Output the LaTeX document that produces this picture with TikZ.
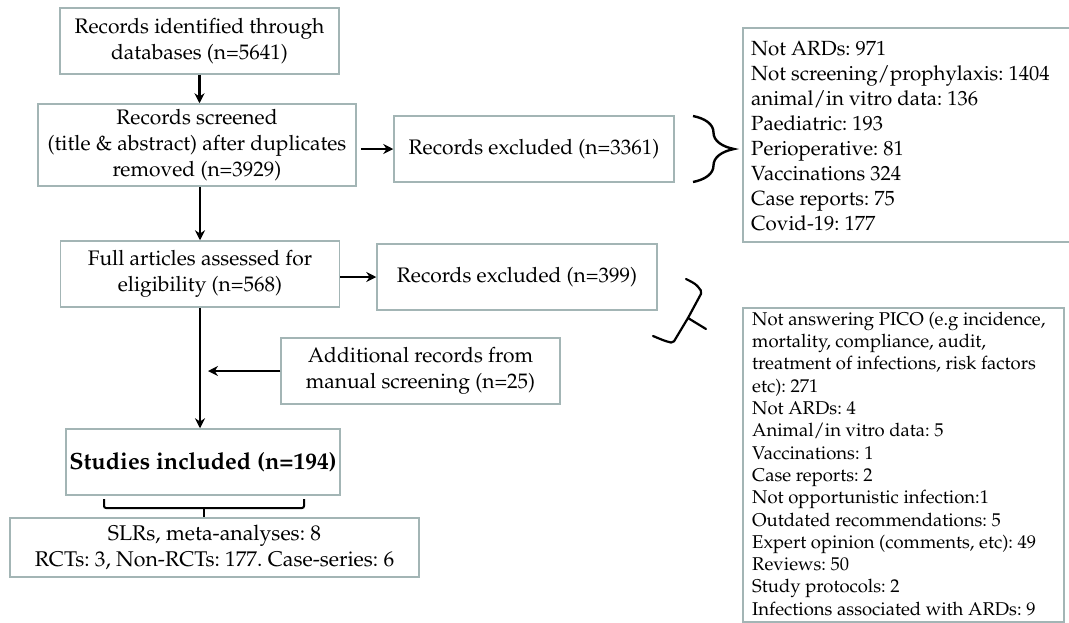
\documentclass[tikz,border=0pt]{standalone}
\usepackage[T1]{fontenc}
\usepackage{mathpazo}
\usetikzlibrary{arrows.meta,decorations.pathreplacing}
\definecolor{boxc}{HTML}{A3B5B5}
\frenchspacing
\begin{document}
\begin{tikzpicture}[x=1pt,y=-1pt,
  box/.style={draw=boxc, line width=1.5pt, inner sep=0pt, align=center, font=\fontsize{21}{25.7}\selectfont},
  frame/.style={draw=boxc, line width=1.5pt, inner sep=0pt, anchor=north west},
  listtext/.style={inner sep=0pt, anchor=west, align=left},
  arr/.style={line width=2.6pt, -{Stealth[length=10pt,width=10pt]}},
  brc/.style={line width=2.4pt, decorate, decoration={brace, amplitude=#1}},
  hand/.style={line width=2.2pt, line cap=round, line join=round, rounded corners=2pt}]
\useasboundingbox (0,0) rectangle (1069,622);
\fill[white] (0,0) rectangle (1069,622);

\node[box, minimum width=279pt, minimum height=66pt] (id) at (199.5,41) {Records identified through\\databases (n=5641)};
\node[box, minimum width=318pt, minimum height=82pt] (scr) at (197,145) {Records screened\\(title \& abstract) after duplicates\\removed (n=3929)};
\node[box, minimum width=280pt, minimum height=66pt] (exa) at (534,149) {Records excluded (n=3361)};
\node[frame, minimum width=327pt, minimum height=214pt] (lista) at (742,27) {};
\node[listtext, font=\fontsize{20.5}{25}\selectfont] (lista-t) at ([xshift=9pt,yshift=-1pt]lista.west) {Not ARDs: 971\\Not screening/prophylaxis: 1404\\animal/in vitro data: 136\\Paediatric: 193\\Perioperative: 81\\Vaccinations 324\\Case reports: 75\\Covid-19: 177};
\node[box, minimum width=279pt, minimum height=66pt] (full) at (200,274) {Full articles assessed for\\eligibility (n=568)};
\node[box, minimum width=280pt, minimum height=66pt] (exb) at (517,277) {Records excluded (n=399)};
\node[box, minimum width=279pt, minimum height=66pt] (add) at (420.5,371) {Additional records from\\manual screening (n=25)};
\node[box, minimum width=274pt, minimum height=66pt, font=\fontsize{23.5}{26}\selectfont\bfseries] (inc) at (203,462) {Studies included (n=194)};
\node[box, minimum width=409pt, minimum height=59pt, font=\fontsize{21.3}{25.7}\selectfont] (types) at (214.5,547.5) {SLRs, meta-analyses: 8\\RCTs: 3, Non-RCTs: 177. Case-series: 6};
\node[frame, minimum width=321pt, minimum height=314pt] (listb) at (742,307) {};
\node[listtext, font=\fontsize{18.5}{22.3}\selectfont] (listb-t) at ([xshift=10pt,yshift=1pt]listb.west) {Not answering PICO (e.g incidence,\\mortality, compliance, audit,\\treatment of infections, risk factors\\etc): 271\\Not ARDs: 4\\Animal/in vitro data: 5\\Vaccinations: 1\\Case reports: 2\\Not opportunistic infection:1\\Outdated recommendations: 5\\Expert opinion (comments, etc): 49\\Reviews: 50\\Study protocols: 2\\Infections associated with ARDs: 9};

\draw[arr] (id.south) -- (id.south |- scr.north);
\draw[arr, shorten <=4pt] (scr.east |- exa.west) -- (exa.west);
\draw[arr] (scr.south -| full.north) -- (full.north);
\draw[arr] (full.east |- exb.west) -- (exb.west);
\draw[arr] (full.south) -- (full.south |- inc.north);
\coordinate (j) at (full.south |- add.west);
\draw[arr, shorten >=8pt] (add.west) -- (j);

% braces
\coordinate (ba1) at (693,116);
\coordinate (ba2) at (693,182);
\draw[brc=41pt] (ba1) -- (ba2);
\coordinate (bc1) at (104,499);
\coordinate (bc2) at (304,499);
\coordinate (bct) at (204,508);
\draw[line width=2pt, rounded corners=2pt] (bc1) -- (bc1 |- bct) -- (bc2 |- bct) -- (bc2);
\draw[line width=2pt] (bct) -- ++(0,9);
\draw[hand] (686,279) .. controls (696,284) .. (702,292) -- (688,318) -- (673,343) .. controls (665,341) .. (653,336);
\draw[hand] (688,318) -- (706,329);
\end{tikzpicture}
\end{document}
